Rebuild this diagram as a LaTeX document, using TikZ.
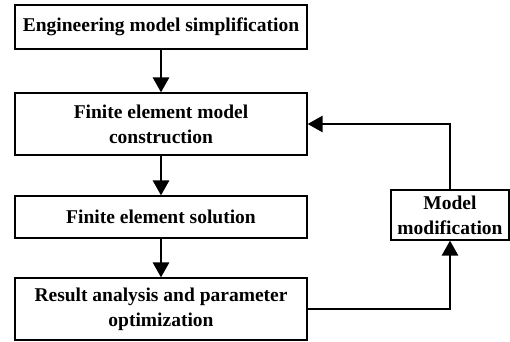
\documentclass[tikz,border=0pt]{standalone}
\usepackage{fontspec}
\setmainfont{Liberation Serif}
\usepackage{tikz}
\usetikzlibrary{arrows.meta}

\begin{document}
\begin{tikzpicture}[x=1bp, y=-1bp,
		box/.style={draw, line width=1.2bp, minimum width=292bp, align=center, inner sep=0pt,
			font=\fontsize{19.5bp}{25bp}\selectfont\bfseries},
		arr/.style={line width=2.8bp, -{Triangle[width=16bp,length=15bp]}}]
				\useasboundingbox (0,0) rectangle (510,341);
				\node[box, minimum height=44bp] (simp) at (161,27) {Engineering model simplification};
				\node[box, minimum height=62bp] (fem) at (161,124) {Finite element model\\construction};
				\node[box, minimum height=42bp] (sol) at (161,217) {Finite element solution};
				\node[box, minimum height=62bp] (opt) at (161,309) {Result analysis and parameter\\optimization};
				\node[box, minimum width=118bp, minimum height=50bp] (mod) at (450,215) {Model\\modification};
				\draw[arr] (simp) -- (fem);
				\draw[arr] (fem) -- (sol);
				\draw[arr] (sol) -- (opt);
				\draw[arr] (opt.east) -| (mod.south);
				\draw[arr] (mod.north) |- (fem.east);
			\end{tikzpicture}
\end{document}
